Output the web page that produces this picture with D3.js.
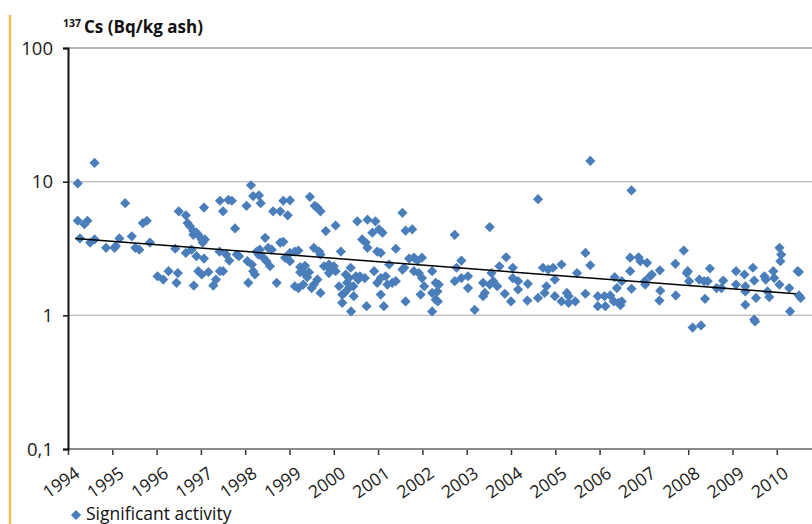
<!DOCTYPE html>
<html lang="en">
<head>
    <meta charset="UTF-8">
    <title>137Cs in ash</title>
    <script src="https://d3js.org/d3.v7.min.js"></script>
    <style>
        body, html {
            margin: 0;
            padding: 0;
            overflow: hidden;
            background: #fff;
        }
        svg {
            display: block;
            font-family: "Open Sans", sans-serif;
        }
    </style>
</head>
<body>
    <svg width="812" height="524" id="chart"></svg>

    <script>
        // measurement dates (decimal year) and activity (Bq/kg ash)
        const sampleYears = [
            1994.22, 1994.6, 1994.22, 1994.37, 1994.44, 1994.27, 1994.5, 1994.6, 1994.86, 1995.05,
            1995.08, 1995.16, 1995.29, 1995.44, 1995.52, 1995.61, 1995.69, 1995.78, 1995.85, 1996.02,
            1996.15, 1996.27, 1996.48, 1996.45, 1996.5, 1996.66, 1996.7, 1996.75, 1996.42, 1996.66,
            1996.79, 1996.83, 1996.9, 1996.83, 1996.94, 1997.02, 1997.09, 1997.04, 1997.07, 1996.9,
            1997.07, 1996.94, 1997.02, 1996.84, 1997.17, 1997.28, 1997.34, 1997.43, 1997.5, 1997.43,
            1997.62, 1997.7, 1997.5, 1997.42, 1997.57, 1997.64, 1997.77, 1997.81, 1997.86, 1998.03,
            1998.13, 1998.18, 1998.31, 1998.35, 1998.07, 1998.05, 1998.15, 1998.18, 1998.22, 1998.26,
            1998.33, 1998.3, 1998.45, 1998.41, 1998.48, 1998.56, 1998.52, 1998.6, 1998.71, 1998.63,
            1998.79, 1998.86, 1999.01, 1998.96, 1998.79, 1998.86, 1998.9, 1999.01, 1999.01, 1999.12,
            1999.2, 1999.12, 1999.2, 1999.31, 1999.24, 1999.35, 1999.31, 1999.4, 1999.44, 1999.24,
            1999.46, 1999.57, 1999.5, 1999.63, 1999.7, 1999.82, 2000.04, 1999.55, 1999.67, 1999.7,
            1999.63, 1999.55, 1999.7, 1999.78, 1999.89, 1999.93, 2000.0, 2000.04, 1999.89, 2000.16,
            2000.12, 2000.19, 2000.24, 2000.19, 2000.27, 2000.34, 2000.38, 2000.3, 2000.34, 2000.44,
            2000.39, 2000.45, 2000.5, 2000.55, 2000.59, 2000.7, 2000.53, 2000.76, 2000.94, 2000.64,
            2000.72, 2000.76, 2000.87, 2001.02, 2001.1, 2000.98, 2001.06, 2000.74, 2000.91, 2000.98,
            2001.06, 2001.06, 2001.13, 2001.17, 2001.21, 2001.32, 2001.4, 2001.25, 2001.4, 2001.55,
            2001.62, 2001.77, 2001.55, 2001.59, 2001.62, 2001.7, 2001.81, 2001.89, 2001.99, 2001.81,
            2001.92, 2001.99, 2001.96, 2002.04, 2002.22, 2002.3, 2002.22, 2002.3, 2002.22, 2002.37,
            2002.34, 2002.35, 2002.73, 2002.77, 2002.88, 2002.73, 2002.88, 2003.03, 2003.03, 2003.18,
            2003.37, 2003.41, 2003.37, 2003.52, 2003.56, 2003.6, 2003.69, 2003.52, 2003.74, 2003.89,
            2003.86, 2004.0, 2004.04, 2004.04, 2004.16, 2004.16, 2004.38, 2004.37, 2004.61, 2004.61,
            2004.72, 2004.84, 2004.95, 2004.99, 2004.8, 2004.76, 2004.99, 2005.14, 2005.14, 2005.26,
            2005.3, 2005.3, 2005.45, 2005.49, 2005.68, 2005.79, 2005.68, 2005.79, 2005.96, 2005.96,
            2006.11, 2006.13, 2006.24, 2006.32, 2006.43, 2006.47, 2006.5, 2006.34, 2006.39, 2006.5,
            2006.72, 2006.69, 2006.69, 2006.72, 2006.88, 2006.92, 2007.07, 2007.02, 2007.03, 2007.14,
            2007.18, 2007.36, 2007.37, 2007.35, 2007.71, 2007.72, 2007.9, 2007.97, 2007.99, 2008.02,
            2008.1, 2008.29, 2008.25, 2008.36, 2008.44, 2008.49, 2008.38, 2008.64, 2008.75, 2008.79,
            2009.08, 2009.08, 2009.27, 2009.29, 2009.29, 2009.29, 2009.46, 2009.49, 2009.53, 2009.49,
            2009.51, 2009.72, 2009.75, 2009.79, 2009.83, 2009.92, 2009.94, 2010.06, 2010.06, 2010.1,
            2010.08, 2010.28, 2010.3, 2010.47, 2010.5, 2010.5, 2010.54
        ];
        const sampleActivity = [
            9.7, 13.8, 5.1, 4.8, 5.1, 3.76, 3.5, 3.7, 3.2, 3.2,
            3.3, 3.76, 6.9, 3.9, 3.2, 3.1, 4.9, 5.1, 3.5, 1.96,
            1.85, 2.14, 2.07, 1.75, 6.0, 5.6, 4.9, 4.65, 3.15, 2.93,
            3.1, 4.27, 4.15, 4.0, 4.0, 3.7, 3.7, 3.5, 6.4, 2.77,
            2.66, 2.14, 2.02, 1.67, 2.11, 1.67, 1.85, 2.14, 2.14, 7.2,
            7.3, 7.2, 6.0, 3.0, 2.85, 2.57, 4.47, 2.85, 2.77, 6.6,
            9.4, 7.8, 7.9, 6.9, 1.75, 2.54, 2.4, 2.14, 2.02, 3.0,
            3.1, 2.85, 3.8, 2.7, 2.54, 2.33, 3.2, 3.1, 1.75, 6.0,
            6.0, 7.2, 7.25, 5.6, 3.5, 3.55, 2.7, 2.54, 2.93, 3.0,
            3.05, 1.65, 1.6, 1.7, 2.3, 2.35, 2.1, 1.93, 2.1, 2.1,
            7.7, 6.6, 1.6, 6.4, 6.0, 4.27, 4.7, 3.2, 3.0, 2.85,
            1.85, 1.7, 1.47, 2.33, 2.4, 2.2, 2.33, 2.14, 2.07, 3.0,
            1.65, 1.43, 1.47, 1.24, 2.02, 1.9, 2.27, 1.75, 1.6, 1.65,
            1.07, 1.39, 1.96, 1.85, 1.96, 1.9, 5.05, 5.2, 5.05, 3.7,
            3.5, 3.2, 4.15, 4.4, 4.15, 3.0, 2.93, 1.17, 2.14, 1.75,
            1.9, 1.43, 1.17, 1.96, 1.7, 1.75, 1.8, 2.4, 3.15, 5.85,
            4.3, 4.4, 2.2, 2.27, 1.27, 2.66, 2.7, 2.57, 2.7, 2.14,
            2.07, 1.9, 1.43, 1.65, 2.14, 1.75, 1.47, 1.31, 1.07, 1.7,
            1.51, 1.27, 4.0, 2.27, 2.57, 1.8, 1.9, 1.96, 1.6, 1.1,
            1.75, 1.47, 1.39, 1.7, 2.07, 1.8, 1.65, 4.57, 2.33, 2.72,
            1.45, 1.27, 2.27, 1.9, 1.8, 1.56, 1.72, 1.29, 1.35, 7.4,
            2.27, 2.2, 2.27, 1.85, 1.65, 1.47, 1.39, 2.4, 1.27, 1.47,
            1.39, 1.24, 1.27, 2.07, 2.93, 2.37, 1.45, 14.3, 1.39, 1.17,
            1.39, 1.17, 1.41, 1.27, 1.24, 1.19, 1.27, 1.93, 1.6, 1.8,
            8.6, 2.7, 2.14, 1.58, 2.72, 2.54, 2.47, 1.8, 1.7, 1.96,
            2.02, 2.17, 1.53, 1.29, 2.43, 1.41, 3.05, 2.07, 2.14, 1.8,
            0.81, 0.84, 1.85, 1.8, 1.8, 2.24, 1.33, 1.6, 1.6, 1.82,
            2.14, 1.7, 2.02, 1.65, 1.51, 1.2, 2.27, 1.82, 1.35, 0.93,
            0.9, 1.96, 1.85, 1.51, 1.37, 2.14, 1.9, 1.7, 3.2, 2.85,
            2.54, 1.6, 1.07, 2.14, 2.11, 1.41, 1.35
        ];

        // fitted trend, end points
        const trendYears = [1994.16, 2010.43];
        const trendActivity = [3.76, 1.45];

        const yearTicks = d3.range(1994, 2011);
        const activityTicks = [0.1, 1, 10, 100];
        const tickText = ["0,1", "1", "10", "100"];

        const svg = d3.select("#chart");

        const x = d3.scaleLinear()
            .domain([1994, 2011])
            .range([68, 68 + 17 * 44.3]);

        const y = d3.scaleLog()
            .domain([0.1, 100])
            .range([449, 48]);

        // orange rule on the left
        svg.append("line")
            .attr("x1", 10).attr("x2", 10)
            .attr("y1", 15).attr("y2", 524)
            .attr("stroke", "#f6bd4f")
            .attr("stroke-width", 2.5);

        // horizontal gridlines
        svg.append("g")
            .selectAll("line")
            .data(activityTicks.slice(1))
            .enter()
            .append("line")
            .attr("x1", x.range()[0])
            .attr("x2", 812)
            .attr("y1", d => y(d))
            .attr("y2", d => y(d))
            .attr("stroke", d => d === 100 ? "#a0a0a0" : "#c4c4c4")
            .attr("stroke-width", 1.5);

        // x axis
        const xAxis = svg.append("g")
            .attr("transform", `translate(0,${y(0.1)})`)
            .call(d3.axisBottom(x).tickValues(yearTicks).tickSize(6).tickFormat(""));
        xAxis.select(".domain").remove();
        xAxis.selectAll(".tick line").attr("stroke", "#333").attr("stroke-width", 1.5);

        svg.append("line")
            .attr("x1", x.range()[0]).attr("x2", 812)
            .attr("y1", y(0.1)).attr("y2", y(0.1))
            .attr("stroke", "#8a8a8a")
            .attr("stroke-width", 2);

        svg.append("g")
            .selectAll("text")
            .data(yearTicks)
            .enter()
            .append("text")
            .attr("font-size", 17.5)
            .attr("fill", "#1a1a1a")
            .attr("text-anchor", "end")
            .attr("transform", d => `translate(${x(d) + 13},${y(0.1) + 27}) rotate(-35)`)
            .text(d => d);

        // y axis
        const yAxis = svg.append("g")
            .attr("transform", `translate(${x.range()[0]},0)`)
            .call(d3.axisLeft(y).tickValues(activityTicks).tickSize(5).tickFormat(""));
        yAxis.select(".domain").attr("stroke", "#111").attr("stroke-width", 2);
        yAxis.selectAll(".tick line").attr("stroke", "#111").attr("stroke-width", 1.5);

        svg.append("g")
            .selectAll("text")
            .data(activityTicks)
            .enter()
            .append("text")
            .attr("font-size", 18.5)
            .attr("fill", "#1a1a1a")
            .attr("text-anchor", "end")
            .attr("x", 53)
            .attr("y", d => y(d))
            .attr("dy", "0.36em")
            .text((d, i) => tickText[i]);

        // title
        const title = svg.append("text")
            .attr("x", 63)
            .attr("y", 33)
            .attr("font-weight", "bold")
            .attr("fill", "#111");
        title.append("tspan")
            .attr("font-size", 10.5)
            .attr("dy", -6)
            .text("137");
        title.append("tspan")
            .attr("font-size", 17)
            .attr("dx", 3)
            .attr("dy", 6)
            .text("Cs (Bq/kg ash)");

        // data points
        const diamond = d3.symbol().type(d3.symbolSquare).size(52);
        const blue = "#4a7ebb";

        svg.append("g")
            .selectAll("path")
            .data(sampleYears)
            .enter()
            .append("path")
            .attr("d", diamond)
            .attr("fill", blue)
            .attr("transform", (d, i) => `translate(${x(d)},${y(sampleActivity[i])}) rotate(45)`);

        // trend line
        svg.append("line")
            .attr("x1", x(trendYears[0]))
            .attr("y1", y(trendActivity[0]))
            .attr("x2", x(trendYears[1]))
            .attr("y2", y(trendActivity[1]))
            .attr("stroke", "#000")
            .attr("stroke-width", 1.5);

        // legend
        svg.append("path")
            .attr("d", diamond)
            .attr("fill", blue)
            .attr("transform", "translate(76,515) rotate(45)");
        svg.append("text")
            .attr("x", 86)
            .attr("y", 520)
            .attr("font-size", 17.5)
            .attr("fill", "#111")
            .text("Significant activity");
    </script>
</body>
</html>
